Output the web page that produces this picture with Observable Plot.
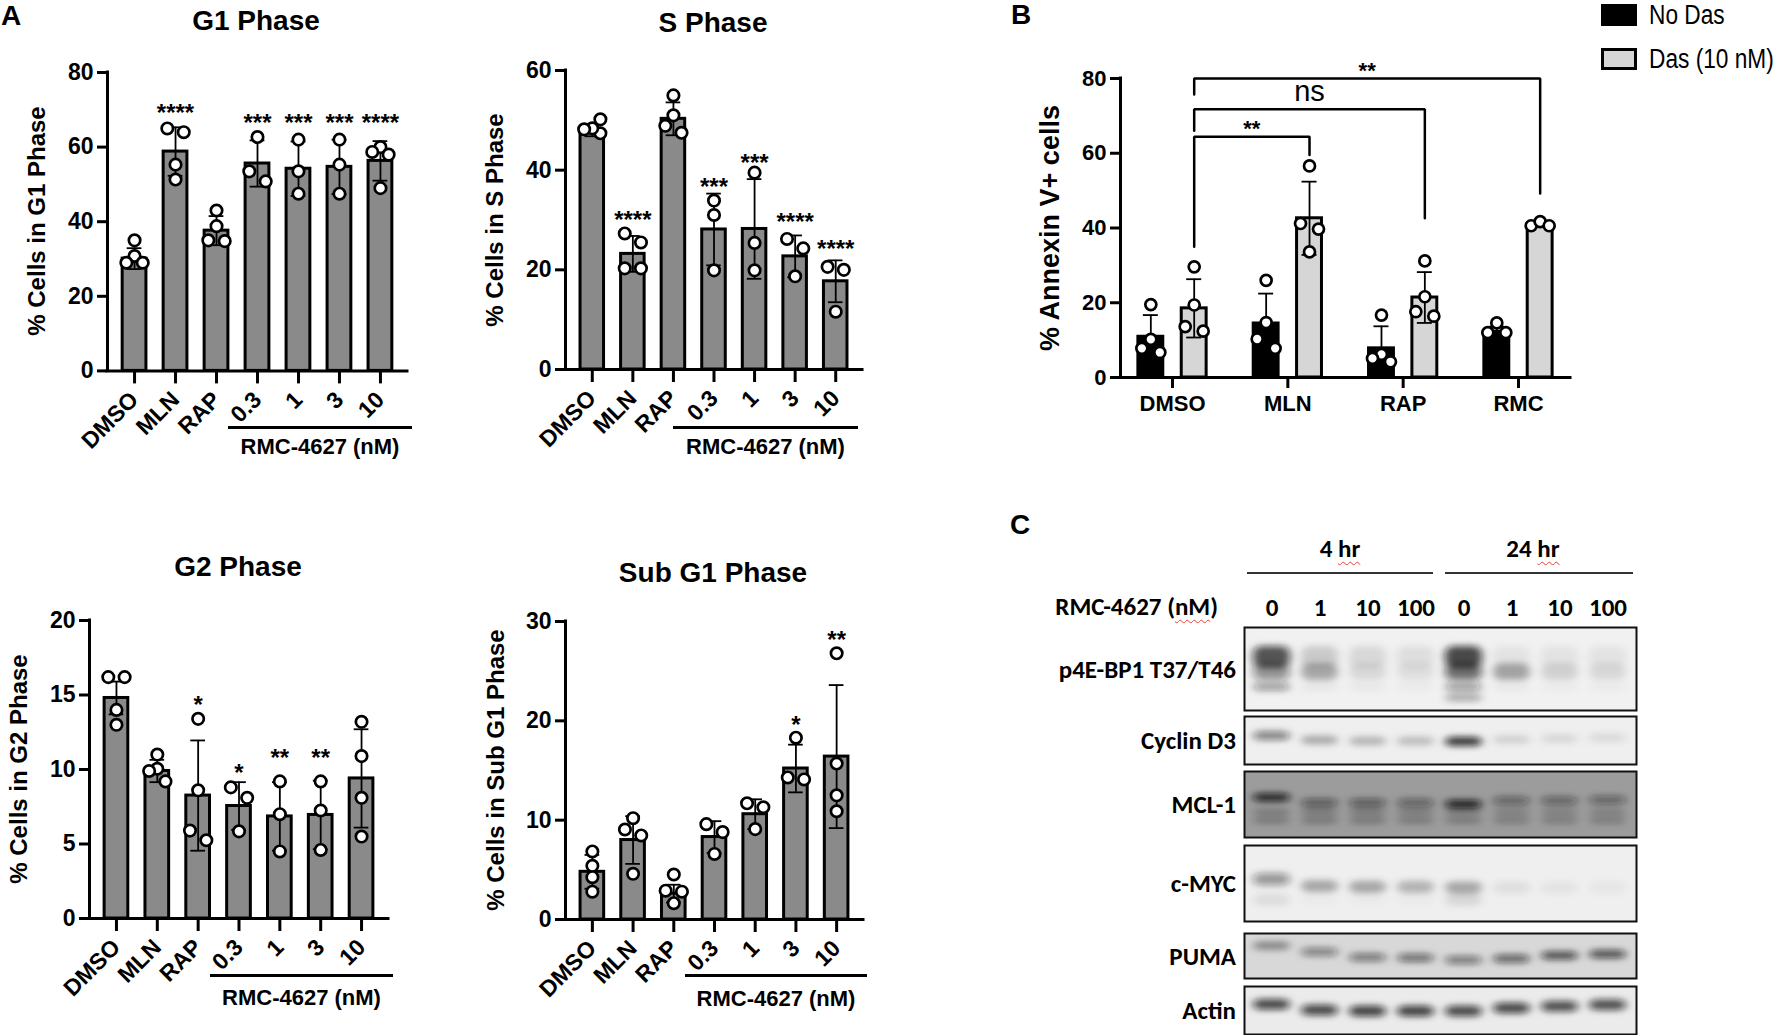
<!DOCTYPE html>
<html>
<head>
<meta charset="utf-8">
<script src="https://cdn.jsdelivr.net/npm/d3@7"></script>
<script src="https://cdn.jsdelivr.net/npm/@observablehq/plot@0.6"></script>
<style>
  html, body { margin: 0; padding: 0; background: #fff; }
  #fig { position: relative; width: 1781px; height: 1035px; overflow: hidden; background: #fff;
         font-family: "Liberation Sans", Arial, Helvetica, sans-serif; color: #000; }
  .abs { position: absolute; line-height: 1; white-space: nowrap; }
  .abs svg { overflow: visible; }
  .grp { position: absolute; border-top: 3px solid #000; text-align: center; font-weight: bold;
         font-size: 22px; line-height: 1; white-space: nowrap; }
  .sp { text-decoration: underline wavy #e8403a; text-decoration-thickness: 1px; text-underline-offset: 4px; }
</style>
</head>
<body>
<div id="fig"></div>
<script>
// ===================== DATA =====================
const phaseCategories = ["DMSO", "MLN", "RAP", "0.3", "1", "3", "10"];
const rmcGroupLabel = "RMC-4627 (nM)";

// G1 phase
const g1Mean   = [30.1, 58.8, 37.6, 55.6, 54.2, 54.7, 56.3];
const g1SD     = [2.8, 6.5, 3.9, 6.2, 7.3, 7.3, 5.3];
const g1Points = [[35.0, 30.8, 29.0, 29.0], [64.0, 65.0, 55.3, 51.3], [43.0, 38.8, 34.8, 35.0],
                  [62.7, 50.8, 53.5], [62.0, 53.5, 47.5], [62.0, 55.3, 47.5], [60.0, 58.7, 58.0, 49.0]];
const g1Stars  = ["", "****", "", "***", "***", "***", "****"];
const g1StarY  = [null, 71.0, null, 68.3, 68.3, 68.3, 68.3];
const g1Ticks  = [0, 20, 40, 60, 80];

// S phase
const sMean   = [48.0, 23.2, 50.3, 28.1, 28.2, 22.7, 17.7];
const sSD     = [1.2, 3.6, 3.3, 7.2, 10.0, 4.2, 4.2];
const sPoints = [[47.4, 48.4, 50.2, 48.2], [25.5, 27.3, 20.3, 20.3], [55.0, 51.0, 48.9, 47.5],
                 [33.9, 31.0, 19.9], [39.5, 25.4, 19.9], [26.2, 24.3, 18.7], [20.6, 20.0, 11.6]];
const sStars  = ["", "****", "", "***", "***", "****", "****"];
const sStarY  = [null, 31.3, null, 37.9, 42.7, 30.9, 25.5];
const sTicks  = [0, 20, 40, 60];

// G2 phase
const g2Mean   = [14.8, 9.9, 8.25, 7.55, 6.85, 6.95, 9.4];
const g2SD     = [1.1, 0.75, 3.7, 1.6, 2.3, 2.3, 3.3];
const g2Points = [[16.2, 16.2, 14.0, 13.0], [11.0, 10.05, 9.9, 9.2], [13.4, 8.6, 5.9, 5.25],
                  [8.8, 8.1, 5.85], [9.2, 7.0, 4.5], [9.2, 7.25, 4.6], [13.2, 10.9, 8.1, 5.5]];
const g2Stars  = ["", "", "*", "*", "**", "**", ""];
const g2StarY  = [null, null, 14.8, 10.2, 11.2, 11.2, null];
const g2Ticks  = [0, 5, 10, 15, 20];

// Sub G1 phase
const subMean   = [4.8, 8.0, 2.6, 8.3, 10.6, 15.2, 16.4];
const subSD     = [1.7, 2.4, 0.9, 1.6, 1.5, 2.4, 7.2];
const subPoints = [[6.85, 5.4, 4.26, 2.8], [9.06, 10.2, 8.46, 4.6], [4.53, 2.9, 2.8, 1.64],
                   [9.6, 8.8, 6.6], [11.7, 11.3, 9.1], [18.3, 14.3, 14.1], [26.8, 15.7, 12.5, 10.9]];
const subStars  = ["", "", "", "", "", "*", "**"];
const subStarY  = [null, null, null, null, null, 20.3, 28.8];
const subTicks  = [0, 10, 20, 30];

// Panel B: Annexin V
const bGroups       = ["DMSO", "MLN", "RAP", "RMC"];
const bSeries       = ["No Das", "Das (10 nM)"];
const bNoDasMean    = [10.9, 14.45, 7.8, 12.2];
const bNoDasSD      = [5.8, 8.0, 5.9, 1.4];
const bNoDasPoints  = [[19.5, 10.2, 7.8, 6.7], [26.0, 14.7, 10.3, 7.8], [16.7, 6.2, 4.2, 5.1], [14.6, 12.0, 12.0]];
const bDasMean      = [18.5, 42.6, 21.4, 40.9];
const bDasSD        = [7.8, 9.8, 6.8, 0.6];
const bDasPoints    = [[29.6, 19.4, 12.4, 13.6], [56.6, 41.2, 39.7, 33.6], [31.2, 21.6, 16.4, 17.6], [40.6, 41.7, 40.6]];
const bTicks        = [0, 20, 40, 60, 80];
const bBrackets = [
  {from: "DMSO", to: "MLN", y: 64.4, fromEnd: 35.0, toEnd: 59.5, label: "**"},
  {from: "DMSO", to: "RAP", y: 71.8, fromEnd: 66.0, toEnd: 42.6, label: "ns"},
  {from: "DMSO", to: "RMC", y: 80.0, fromEnd: 75.7, toEnd: 49.2, label: "**"}
];

// Panel C: western blot (band darkness 0..1 per lane; pos = relative migration 0 top .. 1 bottom)
const timepoints = ["4 hr", "24 hr"];
const laneDose   = ["0", "1", "10", "100", "0", "1", "10", "100"];
const blotNames  = ["p4E-BP1 T37/T46", "Cyclin D3", "MCL-1", "c-MYC", "PUMA", "Actin"];
const p4ebp1Bands = [
  {pos: 0.36, h: 0.26, v: [0.70, 0.16, 0.10, 0.08, 0.75, 0.06, 0.06, 0.06]},
  {pos: 0.54, h: 0.20, v: [0.42, 0.30, 0.10, 0.08, 0.58, 0.32, 0.13, 0.10]},
  {pos: 0.72, h: 0.09, v: [0.40, 0.05, 0.04, 0.03, 0.40, 0.04, 0.03, 0.03]},
  {pos: 0.85, h: 0.09, v: [0.00, 0.00, 0.00, 0.00, 0.30, 0.00, 0.00, 0.00]}
];
const cyclinD3Bands = [
  {pos: [0.41, 0.50, 0.52, 0.52, 0.53, 0.49, 0.47, 0.45], h: 0.18, v: [0.50, 0.30, 0.25, 0.22, 0.85, 0.13, 0.10, 0.09]}
];
const mcl1Bands = [
  {pos: [0.40, 0.48, 0.48, 0.48, 0.50, 0.45, 0.45, 0.44], h: 0.12, v: [0.90, 0.50, 0.50, 0.45, 0.90, 0.45, 0.45, 0.45]},
  {pos: 0.62, h: 0.09, v: [0.26, 0.26, 0.26, 0.24, 0.24, 0.22, 0.22, 0.22]},
  {pos: 0.75, h: 0.09, v: [0.26, 0.28, 0.28, 0.26, 0.26, 0.24, 0.24, 0.24]}
];
const cmycBands = [
  {pos: [0.45, 0.54, 0.55, 0.55, 0.56, 0.56, 0.56, 0.56], h: 0.16, v: [0.40, 0.30, 0.30, 0.25, 0.30, 0.07, 0.05, 0.04]},
  {pos: 0.72, h: 0.16, v: [0.08, 0.02, 0.02, 0.02, 0.10, 0.00, 0.00, 0.00]}
];
const pumaBands = [
  {pos: [0.28, 0.42, 0.54, 0.55, 0.60, 0.57, 0.50, 0.47], h: 0.18, v: [0.38, 0.45, 0.50, 0.55, 0.50, 0.60, 0.72, 0.70]}
];
const actinBands = [
  {pos: [0.38, 0.50, 0.52, 0.52, 0.52, 0.46, 0.42, 0.39], h: 0.22, v: [0.75, 0.75, 0.78, 0.78, 0.75, 0.75, 0.72, 0.72]}
];
const blotBands = [p4ebp1Bands, cyclinD3Bands, mcl1Bands, cmycBands, pumaBands, actinBands];

// ===================== LAYOUT / STYLE =====================
const FONT = '"Liberation Sans", Arial, Helvetica, sans-serif';
const BLOTFONT = 'Carlito, Calibri, "Liberation Sans", Arial, sans-serif';
const fig = document.getElementById("fig");

function place(node, left, top) {
  const d = document.createElement("div");
  d.className = "abs";
  d.style.left = left + "px"; d.style.top = top + "px";
  d.appendChild(node);
  fig.appendChild(d);
  return d;
}
function label(html, x, y, {size = 22, weight = "bold", anchor = "middle", rotate = 0, family = FONT, scaleX = 1} = {}) {
  const d = document.createElement("div");
  d.className = "abs";
  d.innerHTML = html;
  d.style.left = x + "px"; d.style.top = y + "px";
  d.style.fontSize = size + "px"; d.style.fontWeight = weight; d.style.fontFamily = family;
  const tx = anchor === "middle" ? "-50%" : anchor === "end" ? "-100%" : "0";
  d.style.transformOrigin = anchor === "start" ? "0 50%" : anchor === "end" ? "100% 50%" : "50% 50%";
  d.style.transform = `translate(${tx},-50%)` + (rotate ? ` rotate(${rotate}deg)` : "") + (scaleX !== 1 ? ` scaleX(${scaleX})` : "");
  fig.appendChild(d);
  return d;
}
function groupLine(text, x0, x1, yLine, yText) {
  const d = document.createElement("div");
  d.className = "grp";
  d.style.left = x0 + "px"; d.style.width = (x1 - x0) + "px";
  d.style.top = (yLine - 1.5) + "px";
  d.style.paddingTop = (yText - 11 - (yLine + 1.5)) + "px";
  d.textContent = text;
  fig.appendChild(d);
}

// place replicate dots side by side when they would collide (px distance)
function dodgeSlots(vals, pxPerUnit, thresh = 11) {
  const order = d3.range(vals.length).sort((a, b) => vals[b] - vals[a]);
  const slots = new Array(vals.length).fill(0);
  let cluster = [];
  const flush = () => {
    const m = cluster.length;
    const pat = m === 1 ? [0] : m === 2 ? [-1, 1] : m === 3 ? [0, -1, 1] : [1, 0, -1, 1, 0, -1];
    cluster.forEach((k, j) => slots[k] = pat[j % pat.length]);
  };
  order.forEach((k, j) => {
    if (j > 0 && (vals[order[j - 1]] - vals[k]) * pxPerUnit >= thresh) { flush(); cluster = []; }
    cluster.push(k);
  });
  if (cluster.length) flush();
  return slots;
}

const HW = 0.29, CAP = 0.18, SLOT = 0.2, EDGE = 0.66;

function phasePanel(cfg) {
  const {mean, sd, points, stars, starY, ticks, yMax, ax0, ax1, y0, yTop} = cfg;
  const cats = phaseCategories, n = cats.length;
  const mL = 62, mR = 12, mT = 30, mB = 90;
  const pxPerUnit = (y0 - yTop) / yMax;
  const bars = cats.map((c, i) => ({i, mean: mean[i], sd: sd[i]}));
  const pts = points.flatMap((vals, i) => {
    const s = dodgeSlots(vals, pxPerUnit);
    return vals.map((v, k) => ({i, v, slot: s[k]}));
  });
  const sig = stars.map((s, i) => ({i, s, y: starY[i]})).filter(d => d.s);
  const svg = Plot.plot({
    width: ax1 - ax0 + mL + mR, height: y0 - yTop + mT + mB,
    marginLeft: mL, marginRight: mR, marginTop: mT, marginBottom: mB,
    x: {domain: [-EDGE, n - 1 + EDGE], axis: null},
    y: {domain: [0, yMax], axis: null},
    style: {fontFamily: FONT, fontSize: "23px", fontWeight: "bold", color: "#000", background: "transparent", overflow: "visible"},
    marks: [
      Plot.rectY(bars, {x1: d => d.i - HW, x2: d => d.i + HW, y1: () => 0, y2: "mean", fill: "#8a8a8a", stroke: "#000", strokeWidth: 3}),
      Plot.ruleX(bars, {x: "i", y1: d => d.mean - d.sd, y2: d => d.mean + d.sd, stroke: "#000", strokeWidth: 1.8}),
      Plot.ruleY(bars, {y: d => d.mean + d.sd, x1: d => d.i - CAP, x2: d => d.i + CAP, stroke: "#000", strokeWidth: 1.8}),
      Plot.ruleY(bars, {y: d => d.mean - d.sd, x1: d => d.i - CAP, x2: d => d.i + CAP, stroke: "#000", strokeWidth: 1.8}),
      Plot.dot(pts, {x: d => d.i + d.slot * SLOT, y: "v", r: 5.7, fill: "#fff", stroke: "#000", strokeWidth: 2.7}),
      Plot.text(sig, {x: "i", y: "y", text: "s", fontSize: 24, fontWeight: "bold", dy: 7}),
      Plot.ruleY([0], {stroke: "#000", strokeWidth: 3, strokeLinecap: "square"}),
      Plot.ruleX([-EDGE], {y1: () => 0, y2: () => yMax, stroke: "#000", strokeWidth: 3, strokeLinecap: "square"}),
      Plot.axisY({ticks, tickSize: 10, tickPadding: 4, strokeWidth: 3, label: null, tickFormat: d => String(d)}),
      Plot.axisX({ticks: d3.range(n), tickFormat: i => cats[i], tickSize: 13, tickPadding: 12, tickRotate: -45, strokeWidth: 3, label: null})
    ]
  });
  place(svg, ax0 - mL, yTop - mT);
  label(cfg.title, cfg.titleX, cfg.titleY, {size: 28});
  label(cfg.ylabel, cfg.ylabelX, (y0 + yTop) / 2, {size: 24, rotate: -90});
  groupLine(rmcGroupLabel, cfg.grp[0], cfg.grp[1], cfg.grp[2], cfg.grp[3]);
}

// ---------- Panel A ----------
label("A", 11, 16, {size: 28});
phasePanel({mean: g1Mean, sd: g1SD, points: g1Points, stars: g1Stars, starY: g1StarY, ticks: g1Ticks, yMax: 80,
  ax0: 107, ax1: 407, y0: 370, yTop: 71.6, title: "G1 Phase", titleX: 256, titleY: 21,
  ylabel: "% Cells in G1 Phase", ylabelX: 37, grp: [228, 412, 427, 447]});
phasePanel({mean: sMean, sd: sSD, points: sPoints, stars: sStars, starY: sStarY, ticks: sTicks, yMax: 60,
  ax0: 565, ax1: 862, y0: 369, yTop: 70, title: "S Phase", titleX: 713, titleY: 22.5,
  ylabel: "% Cells in S Phase", ylabelX: 495, grp: [673, 858, 427, 447]});
phasePanel({mean: g2Mean, sd: g2SD, points: g2Points, stars: g2Stars, starY: g2StarY, ticks: g2Ticks, yMax: 20,
  ax0: 89, ax1: 388, y0: 918, yTop: 620, title: "G2 Phase", titleX: 238, titleY: 567,
  ylabel: "% Cells in G2 Phase", ylabelX: 19, grp: [210, 393, 975, 998]});
phasePanel({mean: subMean, sd: subSD, points: subPoints, stars: subStars, starY: subStarY, ticks: subTicks, yMax: 30,
  ax0: 565, ax1: 863, y0: 919, yTop: 621, title: "Sub G1 Phase", titleX: 713, titleY: 573,
  ylabel: "% Cells in Sub G1 Phase", ylabelX: 496, grp: [685, 867, 975, 999]});

// ---------- Panel B ----------
(function panelB() {
  const ax0 = 1120, ax1 = 1570, y0 = 377.3, yTop = 78.3, yMax = 80;
  const mL = 70, mR = 10, mT = 50, mB = 50;
  const BE = 0.451, OFF = 0.188, BHW = 0.108, BCAP = 0.065, BSLOT = 0.078;
  const pxPerUnit = (y0 - yTop) / yMax;
  const gi = g => bGroups.indexOf(g);
  const series = [
    {name: bSeries[0], mean: bNoDasMean, sd: bNoDasSD, pts: bNoDasPoints, off: -OFF, fill: "#000"},
    {name: bSeries[1], mean: bDasMean, sd: bDasSD, pts: bDasPoints, off: OFF, fill: "#d6d6d6"}
  ];
  const bars = series.flatMap(s => bGroups.map((g, i) => ({x: i + s.off, mean: s.mean[i], sd: s.sd[i], fill: s.fill})));
  const pts = series.flatMap(s => s.pts.flatMap((vals, i) => {
    const sl = dodgeSlots(vals, pxPerUnit);
    return vals.map((v, k) => ({x: i + s.off + sl[k] * BSLOT, v}));
  }));
  const bracketPath = bBrackets.flatMap((b, k) => [
    {id: k, x: gi(b.from) + OFF, y: b.fromEnd},
    {id: k, x: gi(b.from) + OFF, y: b.y},
    {id: k, x: gi(b.to) + OFF, y: b.y},
    {id: k, x: gi(b.to) + OFF, y: b.toEnd}
  ]);
  const bracketLabels = bBrackets.map(b => ({x: (gi(b.from) + gi(b.to)) / 2 + OFF, y: b.y, label: b.label}));
  const svg = Plot.plot({
    width: ax1 - ax0 + mL + mR, height: y0 - yTop + mT + mB,
    marginLeft: mL, marginRight: mR, marginTop: mT, marginBottom: mB,
    x: {domain: [-BE, bGroups.length - 1 + BE], axis: null},
    y: {domain: [0, yMax], axis: null},
    style: {fontFamily: FONT, fontSize: "22px", fontWeight: "bold", color: "#000", background: "transparent", overflow: "visible"},
    marks: [
      Plot.rectY(bars, {x1: d => d.x - BHW, x2: d => d.x + BHW, y1: () => 0, y2: "mean", fill: d => d.fill, stroke: "#000", strokeWidth: 3}),
      Plot.ruleX(bars, {x: "x", y1: d => d.mean - d.sd, y2: d => d.mean + d.sd, stroke: "#000", strokeWidth: 1.8}),
      Plot.ruleY(bars, {y: d => d.mean + d.sd, x1: d => d.x - BCAP, x2: d => d.x + BCAP, stroke: "#000", strokeWidth: 1.8}),
      Plot.ruleY(bars, {y: d => d.mean - d.sd, x1: d => d.x - BCAP, x2: d => d.x + BCAP, stroke: "#000", strokeWidth: 1.8}),
      Plot.dot(pts, {x: "x", y: "v", r: 5.5, fill: "#fff", stroke: "#000", strokeWidth: 2.7}),
      Plot.line(bracketPath, {x: "x", y: "y", z: "id", stroke: "#000", strokeWidth: 2.5, strokeLinejoin: "miter", curve: "linear"}),
      Plot.text(bracketLabels.filter(d => d.label !== "ns"), {x: "x", y: "y", text: "label", fontSize: 22, fontWeight: "bold", dy: -8}),
      Plot.text(bracketLabels.filter(d => d.label === "ns"), {x: "x", y: "y", text: "label", fontSize: 29, fontWeight: "normal", dy: -17}),
      Plot.ruleY([0], {stroke: "#000", strokeWidth: 3, strokeLinecap: "square"}),
      Plot.ruleX([-BE], {y1: () => 0, y2: () => yMax, stroke: "#000", strokeWidth: 3, strokeLinecap: "square"}),
      Plot.axisY({ticks: bTicks, tickSize: 10, tickPadding: 4, strokeWidth: 3, label: null, tickFormat: d => String(d)}),
      Plot.axisX({ticks: d3.range(bGroups.length), tickFormat: i => bGroups[i], tickSize: 11, tickPadding: 7, strokeWidth: 3, label: null})
    ]
  });
  place(svg, ax0 - mL, yTop - mT);
  label("B", 1021, 15, {size: 28});
  label("% Annexin V+ cells", 1050, 228, {size: 27, rotate: -90});
  // legend
  const sw = [{fill: "#000", top: 4}, {fill: "#d6d6d6", top: 48}];
  sw.forEach((s, k) => {
    const d = document.createElement("div");
    d.className = "abs";
    d.style.cssText += `left:1601px;top:${s.top}px;width:30px;height:16px;background:${s.fill};border:3px solid #000;`;
    fig.appendChild(d);
    label(bSeries[k], 1649, s.top + 11, {size: 27, weight: "normal", anchor: "start", scaleX: 0.84});
  });
})();

// ---------- Panel C ----------
(function panelC() {
  label("C", 1020, 525, {size: 28});
  const left = 1244, width = 392;
  const tops = [627, 716, 771, 845, 933, 986];
  const heights = [83, 48, 66, 76, 45, 48];
  const bgs = ["#f1f1f1", "#efefef", "#9c9c9c", "#efefef", "#d8d8d8", "#ebebeb"];
  // header
  label(`4 <span class="sp">hr</span>`, 1340, 548, {family: BLOTFONT, size: 25});
  label(`24 <span class="sp">hr</span>`, 1533, 548, {family: BLOTFONT, size: 25});
  [[1247, 1433], [1445, 1633]].forEach(([a, b]) => {
    const d = document.createElement("div");
    d.className = "abs";
    d.style.cssText += `left:${a}px;top:572px;width:${b - a}px;height:2px;background:#333;`;
    fig.appendChild(d);
  });
  label(`RMC-4627 (<span class="sp">nM</span>)`, 1218, 606, {family: BLOTFONT, anchor: "end", size: 25});

  blotBands.forEach((rows, b) => {
    const data = rows.flatMap(r => r.v.map((v, i) => ({lane: i, pos: Array.isArray(r.pos) ? r.pos[i] : r.pos, h: r.h, v})));
    const withAxis = b === 0;
    const mT = withAxis ? 40 : 0;
    const svg = Plot.plot({
      width, height: heights[b] + mT,
      marginLeft: 0, marginRight: 0, marginBottom: 0, marginTop: mT,
      x: {type: "band", domain: d3.range(laneDose.length), paddingInner: 0.14, paddingOuter: 0.095, axis: null},
      y: {domain: [1, 0], axis: null},
      opacity: {type: "identity"},
      style: {fontFamily: BLOTFONT, fontSize: "25px", fontWeight: "bold", color: "#000", background: "transparent", overflow: "visible"},
      marks: [
        Plot.frame({fill: bgs[b], stroke: null}),
        Plot.barY(data, {x: "lane", y1: d => d.pos - d.h / 2, y2: d => d.pos + d.h / 2, fill: "#111", fillOpacity: "v", rx: 8, insetLeft: 2, insetRight: 2}),
        Plot.frame({stroke: "#111", strokeWidth: 2}),
        withAxis ? Plot.axisX({anchor: "top", tickSize: 0, tickPadding: 12, tickFormat: i => laneDose[i], label: null}) : null
      ]
    });
    // soften the bands like a scanned blot
    const ns = "http://www.w3.org/2000/svg";
    const defs = document.createElementNS(ns, "defs");
    const filter = document.createElementNS(ns, "filter");
    filter.setAttribute("id", "blur" + b);
    filter.setAttribute("filterUnits", "userSpaceOnUse");
    filter.setAttribute("x", "-50"); filter.setAttribute("y", "-50");
    filter.setAttribute("width", "600"); filter.setAttribute("height", "300");
    const fe = document.createElementNS(ns, "feGaussianBlur");
    fe.setAttribute("stdDeviation", "4.5 3");
    filter.appendChild(fe); defs.appendChild(filter); svg.insertBefore(defs, svg.firstChild);
    const g = svg.querySelector('g[aria-label="bar"]');
    if (g) g.setAttribute("filter", `url(#blur${b})`);
    place(svg, left, tops[b] - mT);
    label(blotNames[b], 1236, tops[b] + heights[b] / 2, {family: BLOTFONT, anchor: "end", size: 25});
  });
})();
</script>
</body>
</html>
